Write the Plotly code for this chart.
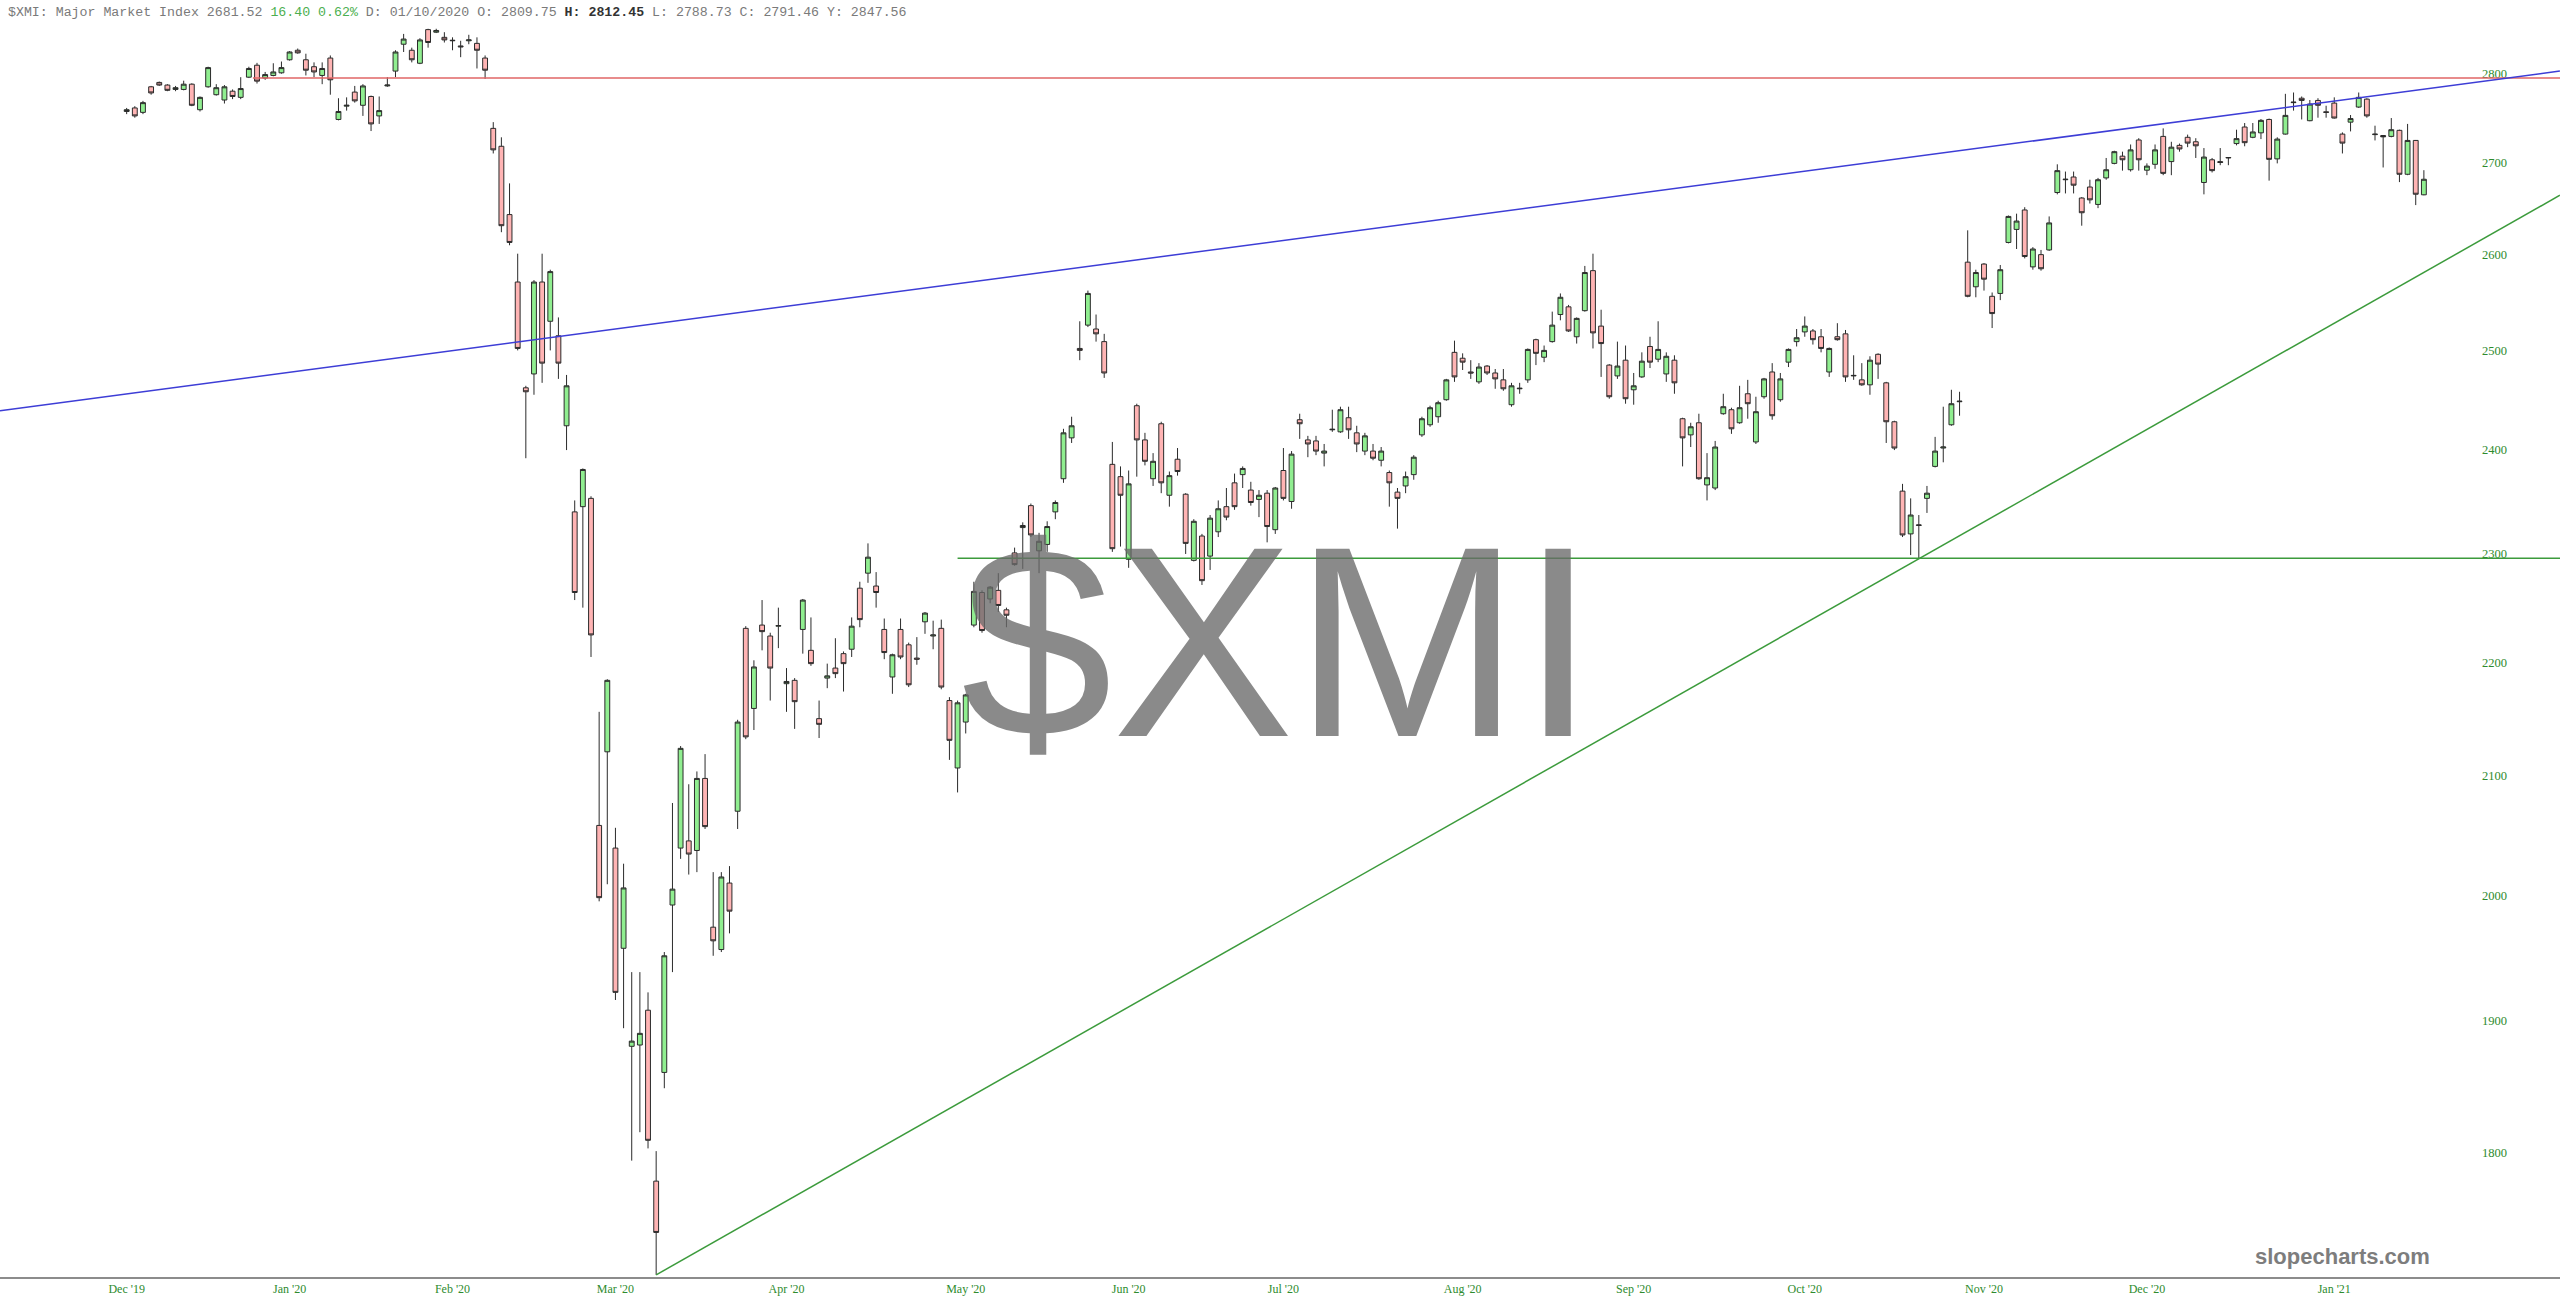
import math
import pandas as pd
import plotly.graph_objects as go

# ---------------- data ----------------
holidays = ['2019-12-25', '2020-01-01', '2020-01-20', '2020-02-17', '2020-04-10', '2020-05-25',
            '2020-07-03', '2020-09-07', '2020-11-26', '2020-12-25', '2021-01-01', '2021-01-18']
dates = pd.bdate_range('2019-12-17', '2021-02-01', freq='C', holidays=holidays).strftime('%Y-%m-%d').tolist()

open_ = [
    2757, 2761, 2756, 2785, 2790, 2787, 2782, 2782, 2788, 2759,
    2785, 2776, 2770, 2780, 2773, 2796, 2809.75, 2795, 2798, 2801,
    2816, 2827, 2816, 2808, 2798, 2818, 2748, 2763, 2779, 2764,
    2774, 2752, 2786, 2803, 2834, 2827, 2812, 2851, 2848, 2842,
    2838, 2832, 2838, 2835, 2818, 2738, 2718, 2643, 2571, 2462,
    2476, 2571, 2530, 2515, 2424, 2340, 2345, 2353, 2058, 2121,
    2039, 1957, 1880, 1881, 1908, 1779, 1860, 1992, 2039, 2045,
    2037, 2098, 1974, 1956, 2010, 2070, 2231, 2159, 2234, 2224,
    2233, 2181, 2184, 2230, 2211, 2150, 2186, 2195, 2208, 2212,
    2268, 2282, 2270, 2230, 2187, 2230, 2216, 2204, 2237, 2224,
    2231, 2166, 2107, 2147, 2234, 2264, 2258, 2266, 2248, 2301,
    2325, 2346, 2303, 2309, 2340, 2372, 2412, 2502, 2526, 2522,
    2509, 2386, 2374, 2295, 2444, 2410, 2372, 2426, 2356, 2391,
    2357, 2294, 2317, 2298, 2321, 2345, 2368, 2376, 2361, 2352,
    2358, 2323, 2380, 2350, 2430, 2410, 2409, 2397, 2420, 2418,
    2432, 2417, 2399, 2399, 2390, 2378, 2359, 2365, 2376, 2415,
    2425, 2433, 2450, 2498, 2492, 2478, 2468, 2484, 2477, 2470,
    2445, 2461, 2470, 2511, 2493, 2509, 2537, 2545, 2514, 2541,
    2583, 2525, 2485, 2474, 2490, 2460, 2473, 2504, 2491, 2476,
    2490, 2431, 2415, 2427, 2366, 2363, 2436, 2440, 2427, 2456,
    2408, 2453, 2478, 2450, 2488, 2509, 2519, 2520, 2514, 2478,
    2514, 2517, 2474, 2470, 2465, 2496, 2467, 2428, 2360, 2319,
    2327, 2353, 2384, 2402, 2425, 2448, 2592, 2566, 2590, 2556,
    2559, 2613, 2627, 2648, 2587, 2600, 2605, 2667, 2681, 2684,
    2661, 2673, 2654, 2683, 2699, 2707, 2692, 2725, 2691.5, 2698,
    2729, 2701, 2719, 2728, 2723, 2678, 2703, 2701, 2705, 2721,
    2739.5, 2728, 2733, 2748, 2704, 2731.6, 2767, 2772, 2746.6, 2769.5,
    2756.6, 2766.5, 2731.6, 2745, 2762, 2771, 2731, 2730, 2729, 2735.8,
    2687, 2724.5, 2664.5,
]
high_ = [
    2761, 2763, 2769, 2786, 2791, 2788, 2786, 2792, 2789, 2774,
    2808, 2788, 2787, 2782, 2796, 2808, 2812.45, 2802, 2812, 2814,
    2826, 2829, 2823, 2813, 2813, 2821, 2772, 2773, 2786, 2788,
    2775, 2774, 2796, 2827, 2846, 2830, 2841, 2852, 2852, 2848,
    2842, 2838, 2845, 2842, 2821, 2745, 2728, 2677, 2601, 2464,
    2573, 2601, 2584, 2534, 2475, 2351, 2382, 2355, 2156, 2185,
    2056, 2026, 1938, 1938, 1922, 1801, 1954, 2077, 2126, 2093,
    2104, 2119, 2019, 2019, 2024, 2149, 2233, 2202, 2257, 2227,
    2250, 2195, 2186, 2258, 2241, 2166, 2199, 2222, 2210, 2241,
    2274, 2310, 2283, 2240, 2208, 2240, 2218, 2223, 2246, 2238,
    2239, 2169, 2166, 2172, 2274, 2266, 2270, 2282, 2250, 2306,
    2330, 2348, 2320, 2331, 2351, 2421, 2433, 2530, 2562, 2537,
    2517, 2408, 2384, 2380, 2446, 2417, 2397, 2428, 2379, 2402,
    2358, 2333, 2319, 2337, 2351, 2363, 2377, 2384, 2369, 2361,
    2361, 2364, 2402, 2399, 2436, 2414, 2414, 2406, 2440, 2443,
    2443, 2424, 2417, 2406, 2403, 2380, 2363, 2379, 2395, 2433,
    2444, 2449, 2471, 2510, 2497, 2490, 2487, 2485, 2481, 2481,
    2467, 2467, 2502, 2512, 2505, 2540, 2559, 2547, 2534, 2588,
    2601, 2542, 2486, 2509, 2505, 2477, 2498, 2514, 2530, 2498,
    2495, 2432, 2427, 2436, 2397, 2409, 2456, 2442, 2464, 2470,
    2453, 2472, 2487, 2477, 2502, 2522, 2535, 2522, 2522, 2503,
    2528, 2521, 2495, 2487, 2494, 2497, 2468, 2429, 2367, 2353,
    2337, 2365, 2413, 2443, 2460, 2458, 2626, 2584, 2591, 2560,
    2589, 2642, 2644, 2651, 2608, 2605, 2641, 2698, 2690, 2690,
    2662, 2681, 2683, 2705, 2713, 2712, 2720, 2727, 2699, 2720,
    2738, 2723, 2721, 2731, 2727, 2716, 2705, 2716, 2706, 2736.5,
    2744, 2744, 2748.5, 2749, 2728, 2777, 2778.5, 2774, 2770, 2772,
    2763.5, 2773, 2733.5, 2753, 2778.5, 2772, 2741, 2730.5, 2749.6, 2736.5,
    2743, 2725, 2691.5,
]
low_ = [
    2754, 2750, 2754, 2776, 2786, 2780, 2780, 2781, 2763, 2757,
    2784, 2775, 2766, 2771, 2771, 2795, 2788.73, 2793, 2797, 2800,
    2815, 2823, 2798, 2796, 2788, 2776, 2747, 2758, 2767, 2752,
    2735, 2743, 2785, 2796, 2825, 2813, 2811, 2830, 2847, 2836,
    2827, 2819, 2834, 2806, 2794, 2710, 2624, 2610, 2500, 2392,
    2455, 2467, 2500, 2471, 2400, 2257, 2250, 2205, 1995, 2009,
    1916, 1894, 1794, 1815, 1803, 1712, 1848, 1938, 2030, 2017,
    2019, 2055, 1951, 1954, 1969, 2055, 2132, 2140, 2211, 2166,
    2213, 2156, 2141, 2208, 2197, 2133, 2177, 2186, 2174, 2205,
    2232, 2273, 2250, 2203, 2172, 2203, 2178, 2198, 2226, 2212,
    2176, 2114, 2086, 2137, 2232, 2227, 2254, 2246, 2232, 2289,
    2286, 2316, 2282, 2302, 2333, 2368, 2407, 2490, 2524, 2509,
    2472, 2302, 2307, 2287, 2374, 2385, 2365, 2358, 2345, 2375,
    2300, 2293, 2271, 2285, 2316, 2332, 2342, 2363, 2346, 2335,
    2311, 2319, 2351, 2343, 2411, 2393, 2395, 2384, 2418, 2417,
    2411, 2398, 2395, 2390, 2384, 2345, 2324, 2358, 2371, 2413,
    2423, 2427, 2449, 2468, 2480, 2471, 2466, 2475, 2461, 2459,
    2443, 2456, 2467, 2485, 2488, 2508, 2531, 2519, 2507, 2540,
    2502, 2473, 2451, 2471, 2446, 2445, 2472, 2482, 2488, 2468,
    2456, 2384, 2403, 2371, 2351, 2361, 2435, 2416, 2426, 2431,
    2406, 2451, 2430, 2448, 2483, 2504, 2514, 2506, 2498, 2473,
    2510, 2468, 2470, 2464, 2455, 2471, 2407, 2400, 2316, 2299,
    2296, 2339, 2383, 2388, 2424, 2434, 2555, 2555, 2562, 2523,
    2552, 2612, 2606, 2596, 2584, 2583, 2604, 2665, 2666, 2666,
    2631, 2655, 2650, 2681, 2698, 2691, 2690, 2691, 2686, 2693,
    2686, 2686, 2712, 2717, 2705, 2665, 2689, 2697, 2697, 2719,
    2718, 2727, 2726, 2680, 2699, 2731, 2758, 2748, 2746, 2750,
    2750, 2749, 2710, 2734.6, 2761, 2750, 2724.5, 2694.5, 2728, 2678.4,
    2686, 2653.3, 2664,
]
close_ = [
    2759, 2752, 2767, 2778, 2787, 2781, 2784, 2788, 2764, 2773,
    2807, 2784, 2785, 2774, 2783, 2806, 2791.46, 2799, 2802, 2807,
    2825, 2824, 2804, 2802, 2806, 2793, 2757, 2764, 2769, 2786,
    2743, 2758, 2787, 2825, 2840, 2816, 2839, 2836, 2850, 2839,
    2838.5, 2831, 2839, 2827, 2804, 2714, 2631, 2613, 2502, 2458,
    2571, 2487, 2582, 2487, 2464, 2264, 2381, 2225, 1998, 2184,
    1922, 2006, 1884, 1890, 1809, 1742, 1951, 2005, 2124, 2034,
    2098, 2057, 1963, 2015, 1987, 2147, 2134, 2196, 2228, 2195,
    2233.5, 2183, 2165, 2257, 2199, 2145, 2188, 2190, 2199, 2233,
    2239, 2297, 2264, 2209, 2207, 2205, 2180, 2203, 2245, 2225,
    2178, 2131, 2164, 2171, 2265, 2229, 2269, 2252, 2243, 2290,
    2327, 2318, 2312, 2326, 2349, 2417, 2424, 2500, 2559, 2517,
    2477, 2305, 2356, 2367, 2410, 2389, 2389, 2368, 2375, 2379,
    2310, 2331, 2275, 2334, 2343, 2335, 2345, 2382, 2349, 2356,
    2326, 2363, 2353, 2396, 2426, 2406, 2399, 2399, 2420.5, 2440,
    2420, 2406, 2414, 2392, 2399, 2368, 2353, 2374, 2393, 2431,
    2442, 2447, 2470, 2473, 2488, 2477, 2483, 2477, 2471, 2461,
    2464, 2461.5, 2501, 2497, 2500, 2526, 2555, 2520, 2533, 2581,
    2518, 2507, 2453, 2484, 2451, 2464, 2489, 2488, 2501, 2494,
    2467, 2412, 2423, 2372, 2373, 2403, 2443, 2421, 2442, 2446,
    2438, 2471, 2434, 2471, 2501, 2513, 2525, 2511, 2502, 2502,
    2511, 2473, 2474.5, 2465, 2490, 2486, 2428, 2402, 2318, 2337,
    2327.5, 2358, 2399, 2403, 2446, 2448.5, 2556, 2581, 2574, 2538,
    2584, 2641, 2636, 2598, 2606, 2585, 2634, 2691, 2681.5, 2675,
    2645, 2659, 2681, 2692, 2712, 2703, 2714, 2703, 2696, 2714,
    2688, 2717, 2715, 2721.5, 2718.5, 2706, 2691, 2700, 2705.5, 2726.5,
    2722, 2734, 2747, 2703.5, 2726, 2752.6, 2767.5, 2769.5, 2765.4, 2764,
    2756, 2749.6, 2721.5, 2749, 2773, 2752, 2731.5, 2728.5, 2736.5, 2687,
    2724.5, 2665.12, 2681.52,
]

# month tick labels (positions, in trading-day index)
tick_index = [0, 20, 40, 60, 81, 103, 123, 142, 164, 185, 206, 228, 248, 271]
tick_labels = ["Dec '19", "Jan '20", "Feb '20", "Mar '20", "Apr '20", "May '20", "Jun '20",
               "Jul '20", "Aug '20", "Sep '20", "Oct '20", "Nov '20", "Dec '20", "Jan '21"]
price_ticks = [1800, 1900, 2000, 2100, 2200, 2300, 2400, 2500, 2600, 2700, 2800]

# trend lines: (start index, start value, end index, end value)
red_level = 2795
red_start = 15.5
support_level = 2296
support_start = 102
blue_line = (-15.55, 2439, 298.7, 2803)
green_line = (65, 1712, 298.7, 2664)

header = dict(symbol="$XMI", name="Major Market Index", last="2681.52", chg="16.40", pct="0.62%",
              date="01/10/2020", o="2809.75", h="2812.45", l="2788.73", c="2791.46", y="2847.56")

assert len(dates) == len(open_) == len(high_) == len(low_) == len(close_) == 283

# ---------------- figure ----------------
W, H = 2560, 1315
fig = go.Figure()
fig.add_trace(go.Candlestick(
    x=dates, open=open_, high=high_, low=low_, close=close_,
    increasing=dict(fillcolor='#90EE90', line=dict(color='#2b2b2b', width=1)),
    decreasing=dict(fillcolor='#FFB4B4', line=dict(color='#2b2b2b', width=1)),
    whiskerwidth=0, showlegend=False, hoverinfo='skip',
))

x_end = 320
shapes = [
    dict(type='line', xref='x', yref='y', x0=red_start, x1=x_end, y0=red_level, y1=red_level,
         line=dict(color='#E06666', width=1.5)),
    dict(type='line', xref='x', yref='y', x0=support_start, x1=x_end, y0=support_level, y1=support_level,
         line=dict(color='#3C9B3C', width=1.5)),
    dict(type='line', xref='x', yref='y', x0=blue_line[0], y0=blue_line[1], x1=blue_line[2], y1=blue_line[3],
         line=dict(color='#3D3DD6', width=1.5)),
    dict(type='line', xref='x', yref='y', x0=green_line[0], y0=green_line[1], x1=green_line[2], y1=green_line[3],
         line=dict(color='#3C9B3C', width=1.5)),
]

header_text = (
    f"{header['symbol']}: {header['name']} {header['last']} "
    f"<span style='color:#4CAF50'>{header['chg']} {header['pct']}</span> "
    f"D: {header['date']} O: {header['o']} "
    f"<b><span style='color:#333'>H: {header['h']}</span></b> "
    f"L: {header['l']} C: {header['c']} Y: {header['y']}"
)

annotations = [
    dict(text="$XMI", xref='paper', yref='paper', x=0.4996, y=0.497, xanchor='center', yanchor='middle',
         showarrow=False, font=dict(family='Liberation Sans, Arial', size=272, color='rgba(105,105,105,0.78)')),
    dict(text=header_text, xref='paper', yref='paper', x=0, y=1, xanchor='left', yanchor='top',
         xshift=6, yshift=-3, showarrow=False, align='left',
         font=dict(family='Liberation Mono, Courier New', size=13.25, color='#7a7a7a')),
    dict(text="<b>slopecharts.com</b>", xref='paper', yref='paper', x=1, y=0, xanchor='right', yanchor='bottom',
         xshift=-128, yshift=6, showarrow=False,
         font=dict(family='Liberation Sans, Arial', size=22, color='#7d7d7d')),
]

y_lo = math.log10(1710.5)
y_hi = math.log10(2885.8)

fig.update_layout(
    width=W, height=H,
    margin=dict(l=0, r=0, t=0, b=38),
    paper_bgcolor='white', plot_bgcolor='white',
    showlegend=False,
    boxgap=0.15,
    shapes=shapes,
    annotations=annotations,
    xaxis=dict(
        type='category', range=[-15.55, 298.71], rangeslider=dict(visible=False),
        showgrid=False, zeroline=False, showline=True, linecolor='#8c8c8c', linewidth=2,
        ticks='', tickvals=[dates[i] for i in tick_index], ticktext=tick_labels,
        tickfont=dict(family='Liberation Serif, Times New Roman', size=12, color='#2E8B2E'),
        fixedrange=True,
    ),
    yaxis=dict(
        type='log', range=[y_lo, y_hi], side='right', ticklabelposition='inside',
        tickvals=price_ticks, ticktext=[str(v) for v in price_ticks],
        showgrid=False, zeroline=False, showline=False, ticks='',
        ticklabelstandoff=50,
        tickfont=dict(family='Liberation Serif, Times New Roman', size=12.5, color='#2E8B2E'),
        fixedrange=True,
    ),
)

fig.write_html("out.html", config={'displayModeBar': False},
               post_script="document.body.style.margin='0';document.body.style.overflow='hidden';")
